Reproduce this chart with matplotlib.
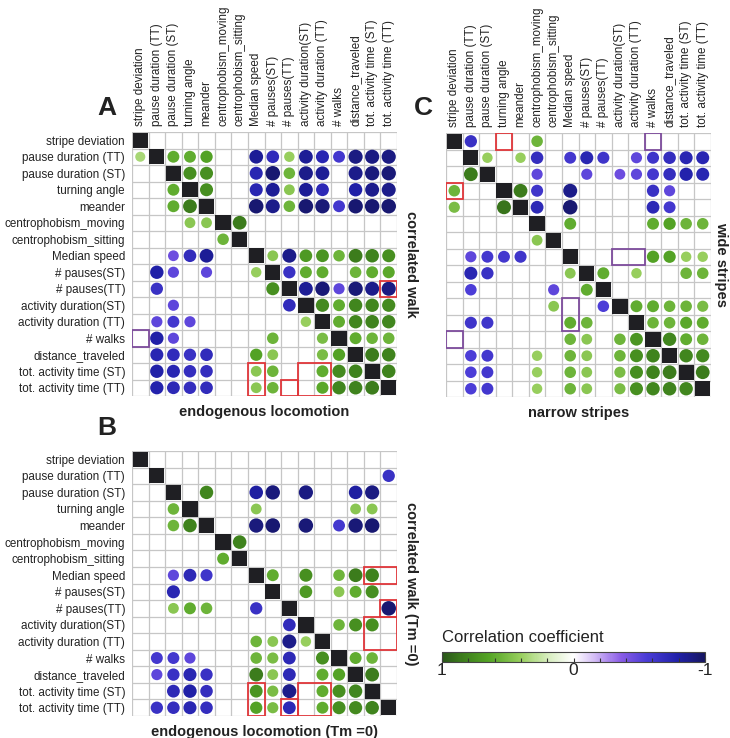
import numpy as np
import matplotlib
matplotlib.use("Agg")
import matplotlib.pyplot as plt
from matplotlib.colors import LinearSegmentedColormap, Normalize
from matplotlib.patches import Circle, Rectangle
from matplotlib.cm import ScalarMappable

plt.rcParams['font.family'] = ['Liberation Sans', 'DejaVu Sans']

labels = ["stripe deviation", "pause duration (TT)", "pause duration (ST)", "turning angle",
          "meander", "centrophobism_moving", "centrophobism_sitting", "Median speed",
          "# pauses(ST)", "# pauses(TT)", "activity duration(ST)", "activity duration (TT)",
          "# walks", "distance_traveled", "tot. activity time (ST)", "tot. activity time (TT)"]

# 0 = not significant (blank), diagonal = 1
corr_A = [
    [1, 0, 0, 0, 0, 0, 0, 0, 0, 0, 0, 0, 0, 0, 0, 0],
    [0.35, 1, 0.6, 0.6, 0.65, 0, 0, -0.85, -0.7, 0.4, -0.85, -0.75, -0.6, -0.9, -0.9, -0.9],
    [0, 0, 1, 0.75, 0.75, 0, 0, -0.75, -0.95, 0.55, -0.88, -0.85, 0, -0.88, -0.92, -0.93],
    [0, 0, 0.6, 1, 0.75, 0, 0, -0.75, -0.85, 0.45, -0.85, -0.72, 0, -0.8, -0.87, -0.88],
    [0, 0, 0.6, 0.85, 1, 0, 0, -0.95, -0.88, 0.55, -0.95, -0.93, -0.6, -0.95, -0.95, -0.95],
    [0, 0, 0, 0.45, 0.45, 1, 0.85, 0, 0, 0, 0, 0, 0, 0, 0, 0],
    [0, 0, 0, 0, 0, 0.55, 1, 0, 0, 0, 0, 0, 0, 0, 0, 0],
    [0, 0, -0.45, -0.7, -0.85, 0, 0, 1, 0.45, -0.88, 0.7, 0.72, 0.55, 0.85, 0.82, 0.75],
    [0, -0.8, -0.5, 0, -0.5, 0, 0, 0.4, 1, -0.65, 0.6, 0.6, 0, 0.55, 0.6, 0.62],
    [0, -0.65, 0, 0, 0, 0, 0, 0, 0.75, 1, -0.85, -0.93, -0.5, -0.93, -0.88, -0.9],
    [0, 0, -0.5, 0, 0, 0, 0, 0, 0, -0.7, 1, 0.78, 0.6, 0.8, 0.8, 0.78],
    [0, -0.5, -0.6, -0.5, 0, 0, 0, 0, 0, 0, 0.4, 1, 0.6, 0.8, 0.82, 0.8],
    [0, -0.8, -0.5, 0, 0, 0, 0, 0, 0.55, 0, 0, 0.5, 1, 0.6, 0.55, 0.55],
    [0, -0.75, -0.7, -0.65, -0.7, 0, 0, 0.65, 0.45, 0, 0, 0.5, 0.65, 1, 0.85, 0.82],
    [0, -0.8, -0.75, -0.68, -0.68, 0, 0, 0.45, 0.55, 0, 0, 0.6, 0.78, 0.82, 1, 0.82],
    [0, -0.78, -0.72, -0.68, -0.7, 0, 0, 0.45, 0.55, 0, 0, 0.62, 0.8, 0.82, 0.85, 1],
]

corr_B = [
    [1, 0, 0, 0, 0, 0, 0, 0, 0, 0, 0, 0, 0, 0, 0, 0],
    [0, 1, 0, 0, 0, 0, 0, 0, 0, 0, 0, 0, 0, 0, 0, -0.65],
    [0, 0, 1, 0, 0.8, 0, 0, -0.82, -0.92, 0, -0.9, 0, 0, -0.82, -0.9, 0],
    [0, 0, 0.55, 1, 0, 0, 0, 0.45, 0, 0, 0, 0, 0, 0.45, 0.45, 0],
    [0, 0, 0.55, 0.82, 1, 0, 0, -0.92, -0.95, 0, -0.93, 0, -0.6, -0.93, -0.95, 0],
    [0, 0, 0, 0, 0, 1, 0.82, 0, 0, 0, 0, 0, 0, 0, 0, 0],
    [0, 0, 0, 0, 0, 0.6, 1, 0, 0, 0, 0, 0, 0, 0, 0, 0],
    [0, 0, -0.5, -0.72, -0.62, 0, 0, 1, 0.6, 0, 0.75, 0, 0.55, 0.85, 0.82, 0],
    [0, 0, -0.75, 0, 0, 0, 0, 0, 1, 0, 0.7, 0, 0.45, 0.6, 0.75, 0],
    [0, 0, 0.45, 0.6, 0.55, 0, 0, -0.65, 0, 1, 0, 0, 0, 0, 0, -0.95],
    [0, 0, 0, 0, 0, 0, 0, 0, 0, -0.7, 1, 0, 0.55, 0.75, 0.75, 0],
    [0, 0, 0, 0, 0, 0, 0, 0.55, 0.45, -0.88, 0.4, 1, 0, 0, 0, 0],
    [0, -0.6, -0.6, -0.5, 0, 0, 0, 0.55, 0.5, -0.72, 0, 0.75, 1, 0.6, 0.55, 0],
    [0, -0.5, -0.65, -0.75, -0.65, 0, 0, 0.85, 0.45, -0.72, 0, 0.6, 0.65, 1, 0.85, 0],
    [0, 0, -0.72, -0.8, -0.68, 0, 0, 0.72, 0.5, -0.88, 0, 0.6, 0.75, 0.8, 1, 0],
    [0, -0.65, -0.68, -0.75, -0.68, 0, 0, 0.65, 0.5, -0.72, 0, 0.6, 0.75, 0.78, 0.82, 1],
]

corr_C = [
    [1, -0.65, 0, 0, 0, 0.55, 0, 0, 0, 0, 0, 0, 0, 0, 0, 0],
    [0, 1, 0.4, 0, 0.4, -0.68, 0, -0.6, -0.75, -0.62, 0, -0.5, -0.62, -0.68, -0.75, -0.75],
    [0, 0.85, 1, 0, 0, -0.5, 0, 0, -0.5, 0, -0.45, -0.5, -0.6, -0.68, -0.78, -0.75],
    [0.55, 0, 0, 1, 0.85, -0.62, 0, -0.88, 0, 0, 0, 0, -0.65, -0.5, 0, 0],
    [0.5, 0, 0, 0.88, 1, -0.72, 0, -0.95, 0, 0, 0, 0, -0.72, -0.6, 0, 0],
    [0, 0, 0, 0, 0, 1, 0, 0.6, 0, 0, 0, 0, 0.6, 0.65, 0.55, 0.55],
    [0, 0, 0, 0, 0, 0.45, 1, 0, 0, 0, 0, 0, 0, 0, 0, 0],
    [0, -0.5, -0.6, -0.6, -0.62, 0, 0, 1, 0, 0, 0, 0, 0.65, 0.65, 0.4, 0.4],
    [0, -0.75, -0.65, 0, 0, 0, 0, 0.45, 1, 0.6, 0, 0.4, 0, 0, 0.55, 0.55],
    [0, -0.55, 0, 0, 0, 0, -0.5, 0, 0.6, 1, 0, 0, 0, 0, 0, 0],
    [0, 0, 0, 0, 0, 0, 0.45, 0, 0, -0.55, 1, 0.6, 0.6, 0.55, 0.55, 0.5],
    [0, -0.62, -0.62, 0, 0, 0, 0, 0.6, 0.55, 0, 0, 1, 0.55, 0.55, 0.62, 0.6],
    [0, 0, 0, 0, 0, 0, 0, 0.55, 0.45, 0, 0.55, 0.72, 1, 0.8, 0.6, 0.55],
    [0, -0.55, -0.6, 0, 0, 0.4, 0, 0.55, 0.45, 0, 0.55, 0.75, 0.82, 1, 0.8, 0.78],
    [0, -0.55, -0.6, 0, 0, 0.4, 0, 0.55, 0.45, 0, 0.5, 0.75, 0.82, 0.85, 1, 0.85],
    [0, -0.55, -0.6, 0, 0, 0.4, 0, 0.55, 0.45, 0, 0.5, 0.75, 0.8, 0.82, 0.8, 1],
]

# highlight boxes: (row, col, n_rows, n_cols, kind)
boxes_A = [(9, 15, 1, 1, "red"), (14, 7, 2, 1, "red"), (15, 9, 1, 1, "red"),
           (14, 10, 2, 2, "red"), (12, 0, 1, 1, "purple")]
boxes_B = [(7, 14, 1, 2, "red"), (9, 15, 1, 1, "red"), (10, 14, 2, 2, "red"),
           (14, 7, 2, 1, "red"), (15, 9, 1, 1, "red"), (14, 10, 2, 2, "red")]
boxes_C = [(3, 0, 1, 1, "red"), (0, 3, 1, 1, "red"), (0, 12, 1, 1, "purple"),
           (12, 0, 1, 1, "purple"), (7, 10, 1, 2, "purple"), (10, 7, 2, 1, "purple")]

box_colors = {"red": "#e0363a", "purple": "#7d4c9c"}

cmap = LinearSegmentedColormap.from_list("corr", [
    (0.00, "#161660"), (0.10, "#2020a8"), (0.22, "#4a3cd6"), (0.32, "#8a5ce6"),
    (0.42, "#d4bdf6"), (0.50, "#ffffff"), (0.60, "#d6edbd"), (0.70, "#98cf5e"),
    (0.82, "#55a526"), (0.92, "#3d7f1c"), (1.00, "#2a561a")])
norm = Normalize(-1, 1)

W, H = 730, 738
fig = plt.figure(figsize=(W / 100, H / 100), dpi=100)
LABEL_FS = 8.4
TXT = "#222222"


def px_axes(x0, y0, x1, y1):
    return fig.add_axes([x0 / W, 1 - y1 / H, (x1 - x0) / W, (y1 - y0) / H])


def draw_matrix(ax, M, boxes, show_rows, show_cols, right_label, right_off,
                bottom_label, letter, letter_xy):
    n = len(labels)
    M = np.array(M, dtype=float)
    ax.set_xlim(0, n)
    ax.set_ylim(n, 0)
    for k in range(n + 1):
        ax.plot([k, k], [0, n], color="#c6c6c6", lw=0.9, zorder=1)
        ax.plot([0, n], [k, k], color="#c6c6c6", lw=0.9, zorder=1)
    for i in range(n):
        for j in range(n):
            v = M[i, j]
            if i == j:
                ax.add_patch(Rectangle((j + 0.04, i + 0.04), 0.92, 0.92,
                                       color="#1f1f23", zorder=3, lw=0))
            elif v != 0:
                d = 0.45 + 0.45 * abs(v)
                ax.add_patch(Circle((j + 0.5, i + 0.5), d / 2, color=cmap(norm(v)),
                                    zorder=3, lw=0))
    for (r, c, nr, nc, kind) in boxes:
        ax.add_patch(Rectangle((c, r), nc, nr, fill=False, edgecolor=box_colors[kind],
                               lw=1.3, zorder=4))
    for s in ax.spines.values():
        s.set_visible(False)
    if show_rows:
        ax.set_yticks(np.arange(n) + 0.5)
        ax.set_yticklabels(labels, fontsize=LABEL_FS, color=TXT)
        ax.tick_params(axis="y", length=0, pad=5)
    else:
        ax.set_yticks([])
    if show_cols:
        ax.xaxis.tick_top()
        ax.set_xticks(np.arange(n) + 0.5)
        ax.set_xticklabels(labels, rotation=90, fontsize=LABEL_FS, color=TXT)
        ax.tick_params(axis="x", length=0, pad=4)
    else:
        ax.set_xticks([])
    ax.text(1 + right_off / 265, 0.5, right_label, rotation=270, ha="center", va="center",
            fontsize=10.5, fontweight="bold", color=TXT, transform=ax.transAxes)
    ax.text(0.5, -16 / 264, bottom_label, ha="center", va="center",
            fontsize=10.5, fontweight="bold", color=TXT, transform=ax.transAxes)
    fig.text(letter_xy[0] / W, 1 - letter_xy[1] / H, letter, fontsize=19,
             fontweight="bold", ha="center", va="center", color=TXT)


axA = px_axes(132, 132, 397, 396)
draw_matrix(axA, corr_A, boxes_A, True, True, "correlated walk", 14,
            "endogenous locomotion", "A", (107, 108))
axC = px_axes(446, 133, 711, 397)
draw_matrix(axC, corr_C, boxes_C, False, True, "wide stripes", 10,
            "narrow stripes", "C", (423, 108))
axB = px_axes(132, 451, 397, 716)
draw_matrix(axB, corr_B, boxes_B, True, False, "correlated walk (Tm =0)", 14,
            "endogenous locomotion (Tm =0)", "B", (107, 428))

cax = px_axes(442, 652, 705, 662)
sm = ScalarMappable(norm=norm, cmap=cmap)
cb = fig.colorbar(sm, cax=cax, orientation="horizontal")
cax.invert_xaxis()
cb.set_ticks([1, 0, -1])
cb.set_ticklabels(["1", "0", "-1"])
cax.set_xticks(np.round(np.arange(-0.8, 0.81, 0.2), 2), minor=True)
cax.tick_params(axis="x", which="both", direction="in", length=3, width=0.8,
                color="#333333", labelsize=12.5, pad=1, labelcolor=TXT)
cb.outline.set_edgecolor("#444444")
cb.outline.set_linewidth(0.8)
fig.text(442 / W, 1 - 637 / H, "Correlation coefficient", fontsize=12, ha="left",
         va="center", color=TXT)

fig.savefig("out.png", dpi=100)
